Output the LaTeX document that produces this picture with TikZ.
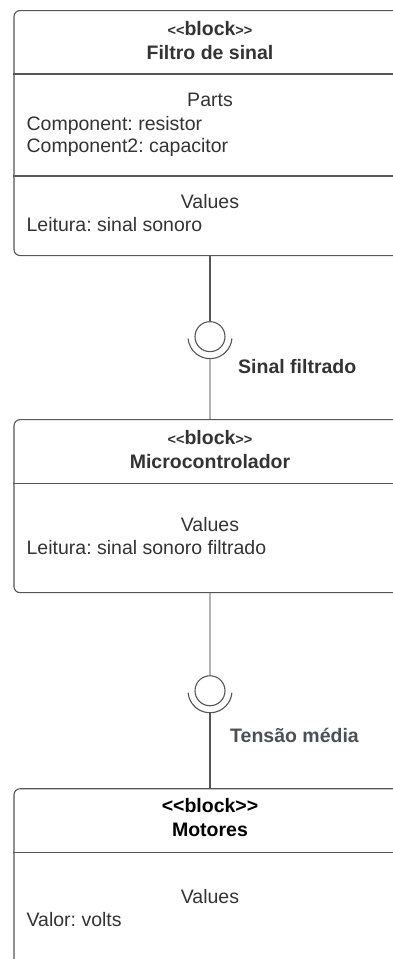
\documentclass[tikz,border=0pt]{standalone}
\usepackage{fontspec}
\setmainfont{Liberation Sans}
\frenchspacing
\usetikzlibrary{calc,positioning}
\definecolor{lineColor}{RGB}{85,85,85}
\definecolor{lightColor}{RGB}{178,178,178}
\definecolor{textColor}{RGB}{51,51,51}
\definecolor{labelColor}{RGB}{75,80,86}
\newcommand{\smallguil}[1]{{\fontsize{14.5}{17}\selectfont#1}}
\tikzset{block/.style={draw=lineColor, line width=1.1pt, rounded corners=6pt, minimum width=392pt, inner sep=0pt, anchor=north}}
\tikzset{ball/.style={circle, draw=lineColor, line width=1.1pt, minimum size=30pt, inner sep=0pt}}
\tikzset{header/.style={anchor=base, inner sep=0pt, font=\fontsize{19.5}{23}\selectfont\bfseries, text=textColor}}
\tikzset{entry/.style={anchor=base west, inner sep=0pt, font=\fontsize{19.5}{23}\selectfont, text=textColor}}
\tikzset{section/.style={entry, anchor=base}}
\tikzset{conlabel/.style={anchor=base west, inner sep=0pt, font=\fontsize{19.5}{23}\selectfont\bfseries}}
\tikzstyle{divider} = [draw=lineColor, line width=1.1pt]
\tikzstyle{dark} = [draw=lineColor, line width=1.1pt]
\tikzstyle{light} = [draw=lightColor, line width=1.1pt]

\begin{document}
\begin{tikzpicture}[x=1pt, y=1pt]
	\useasboundingbox (0,0) rectangle (393,-959);
	\clip (0,0) rectangle (393,-959);

	% Nodes
	\node (filtro) [block, minimum height=245pt] at (210,-10) {};
	\node (micro) [block, minimum height=173pt, below=163pt of filtro] {};
	\node (motores) [block, minimum height=200pt, below=195pt of micro] {};

	% Filtro de sinal
	\node (filtrostereo) [header] at ($(filtro.north)+(0,-25)$) {\smallguil{<\kern0pt<}block\smallguil{>\kern0pt>}};
	\node (filtroname) [header] at ($(filtro.north)+(0,-49)$) {Filtro de sinal};
	\node (filtroparts) [section] at ($(filtro.north)+(0,-96)$) {Parts};
	\node (filtropart1) [entry] at ($(filtro.north west)+(13,-120)$) {Component: resistor};
	\node (filtropart2) [entry] at ($(filtro.north west)+(13,-142)$) {Component2: capacitor};
	\node (filtrovalues) [section] at ($(filtro.north)+(0,-198)$) {Values};
	\node (filtroleitura) [entry] at ($(filtro.north west)+(13,-221)$) {Leitura: sinal sonoro};
	\draw [divider] ($(filtro.north west)+(0,-64)$) -- ($(filtro.north east)+(0,-64)$);
	\draw [divider] ($(filtro.north west)+(0,-166)$) -- ($(filtro.north east)+(0,-166)$);

	% Microcontrolador
	\node (microstereo) [header] at ($(micro.north)+(0,-25)$) {\smallguil{<\kern0pt<}block\smallguil{>\kern0pt>}};
	\node (microname) [header] at ($(micro.north)+(0,-49)$) {Microcontrolador};
	\node (microvalues) [section] at ($(micro.north)+(0,-112)$) {Values};
	\node (microleitura) [entry] at ($(micro.north west)+(13,-135)$) {Leitura: sinal sonoro filtrado};
	\draw [divider] ($(micro.north west)+(0,-64)$) -- ($(micro.north east)+(0,-64)$);

	% Motores
	\node (motoresstereo) [header, text=black] at ($(motores.north)+(0,-24)$) {<\kern0pt<block>\kern0pt>};
	\node (motoresname) [header, text=black] at ($(motores.north)+(0,-48)$) {Motores};
	\node (motoresvalues) [section] at ($(motores.north)+(0,-115)$) {Values};
	\node (motoresvalor) [entry] at ($(motores.north west)+(13,-138)$) {Valor: volts};
	\draw [divider] ($(motores.north west)+(0,-64)$) -- ($(motores.north east)+(0,-64)$);

	% Interfaces
	\node (ball1) [ball, below=65pt of filtro] {};
	\coordinate (socket1) at ($(ball1.center)+(0,-22)$);
	\draw [dark] ($(ball1.center)+(185:22)$) arc[start angle=185, end angle=355, radius=22];
	\node (signal1) [conlabel, text=textColor] at ($(ball1.center)+(28,-37)$) {Sinal filtrado};

	\node (ball2) [ball, below=82pt of micro] {};
	\coordinate (socket2) at ($(ball2.center)+(0,-22)$);
	\draw [dark] ($(ball2.center)+(185:22)$) arc[start angle=185, end angle=355, radius=22];
	\node (signal2) [conlabel, text=labelColor] at ($(ball2.center)+(20,-52)$) {Tensão média};

	% Connectors
	\draw [dark] (filtro) -- (ball1);
	\draw [light] (socket1) -- (micro);
	\draw [light] (micro) -- (ball2);
	\draw [dark] (socket2) -- (motores);

\end{tikzpicture}
\end{document}
